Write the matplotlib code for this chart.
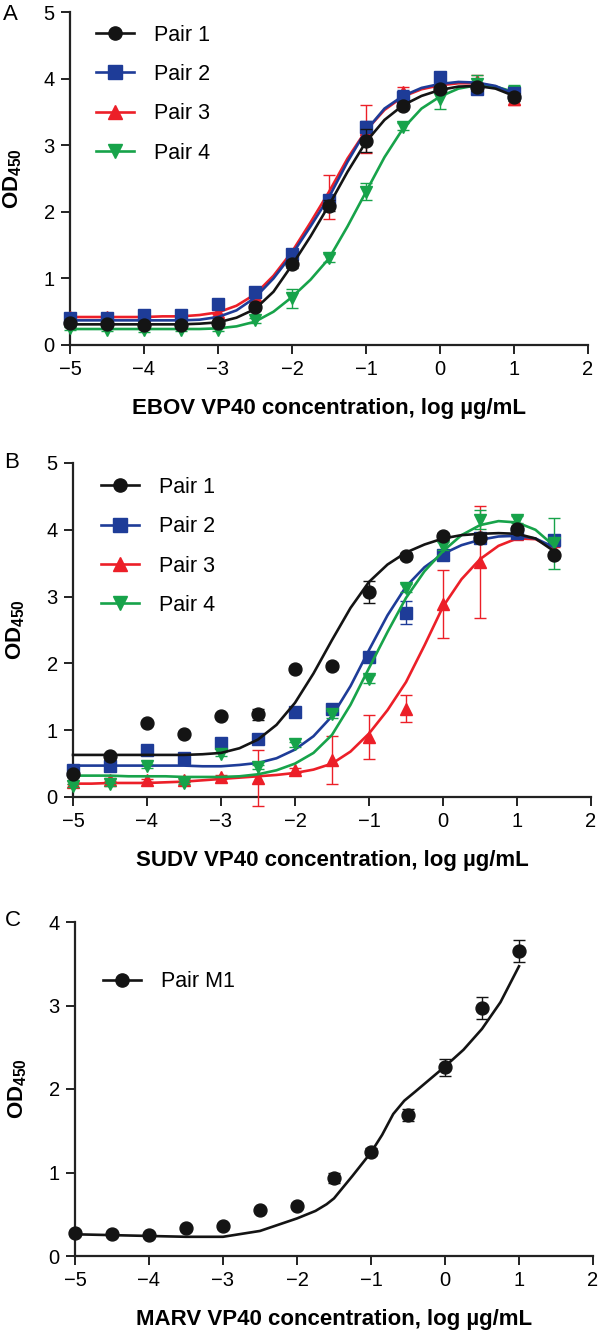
import matplotlib.pyplot as plt
from matplotlib.lines import Line2D

plt.rcParams['font.family'] = ['Liberation Sans', 'DejaVu Sans']
plt.rcParams['mathtext.fontset'] = 'custom'
plt.rcParams['mathtext.rm'] = 'Liberation Sans'
plt.rcParams['mathtext.bf'] = 'Liberation Sans:bold'

# ---- Panel A: EBOV VP40 ----
a_x = [-5, -4.5, -4, -3.5, -3, -2.5, -2, -1.5, -1, -0.5, 0, 0.5, 1]
a_p1 = [0.33, 0.32, 0.30, 0.30, 0.33, 0.57, 1.21, 2.09, 3.07, 3.59, 3.85, 3.87, 3.72]
a_p1_err = [0.03, 0.02, 0.02, 0.02, 0.03, 0.04, 0.06, 0.08, 0.17, 0.05, 0.04, 0.06, 0.06]
a_p2 = [0.41, 0.40, 0.45, 0.45, 0.61, 0.79, 1.36, 2.17, 3.28, 3.73, 4.03, 3.85, 3.78]
a_p2_err = [0.03, 0.03, 0.03, 0.03, 0.03, 0.05, 0.06, 0.08, 0.08, 0.10, 0.05, 0.06, 0.08]
a_p3 = [0.42, 0.42, 0.43, 0.43, 0.50, 0.74, 1.30, 2.22, 3.25, 3.80, 3.95, 3.97, 3.70]
a_p3_err = [0.03, 0.03, 0.03, 0.03, 0.04, 0.06, 0.08, 0.33, 0.36, 0.08, 0.05, 0.08, 0.10]
a_p4 = [0.25, 0.23, 0.22, 0.23, 0.23, 0.37, 0.70, 1.30, 2.30, 3.28, 3.70, 3.92, 3.80]
a_p4_err = [0.02, 0.02, 0.02, 0.02, 0.02, 0.04, 0.14, 0.06, 0.13, 0.05, 0.15, 0.14, 0.10]

# fitted curves, every 0.25 log units
a_cx = [-5, -4.75, -4.5, -4.25, -4, -3.75, -3.5, -3.25, -3, -2.75, -2.5, -2.25, -2,
        -1.75, -1.5, -1.25, -1, -0.75, -0.5, -0.25, 0, 0.25, 0.5, 0.75, 1]
a_c1 = [0.31, 0.31, 0.31, 0.31, 0.31, 0.31, 0.31, 0.32, 0.34, 0.41, 0.54, 0.80, 1.20,
        1.63, 2.10, 2.60, 3.05, 3.38, 3.60, 3.74, 3.83, 3.88, 3.89, 3.85, 3.74]
a_c2 = [0.37, 0.37, 0.37, 0.37, 0.37, 0.37, 0.37, 0.38, 0.42, 0.52, 0.71, 1.00, 1.36,
        1.78, 2.22, 2.75, 3.22, 3.55, 3.74, 3.86, 3.92, 3.95, 3.94, 3.89, 3.77]
a_c3 = [0.42, 0.42, 0.42, 0.42, 0.42, 0.43, 0.43, 0.45, 0.49, 0.59, 0.76, 1.04, 1.40,
        1.84, 2.30, 2.80, 3.22, 3.53, 3.73, 3.84, 3.90, 3.93, 3.93, 3.88, 3.75]
a_c4 = [0.24, 0.24, 0.24, 0.24, 0.24, 0.24, 0.24, 0.24, 0.25, 0.28, 0.35, 0.50, 0.72,
        0.98, 1.30, 1.78, 2.30, 2.82, 3.25, 3.55, 3.73, 3.85, 3.90, 3.88, 3.80]

# ---- Panel B: SUDV VP40 ----
b_x = [-5, -4.5, -4, -3.5, -3, -2.5, -2, -1.5, -1, -0.5, 0, 0.5, 1, 1.5]
b_p1 = [0.34, 0.61, 1.11, 0.95, 1.21, 1.24, 1.92, 1.96, 3.07, 3.61, 3.91, 3.88, 4.01, 3.62]
b_p1_err = [0.03, 0.03, 0.03, 0.03, 0.03, 0.08, 0.04, 0.04, 0.17, 0.04, 0.04, 0.05, 0.05, 0.04]
b_p2 = [0.41, 0.46, 0.70, 0.59, 0.81, 0.87, 1.27, 1.32, 2.10, 2.76, 3.63, 3.88, 3.95, 3.85]
b_p2_err = [0.03, 0.03, 0.03, 0.03, 0.03, 0.04, 0.04, 0.05, 0.06, 0.17, 0.05, 0.06, 0.05, 0.06]
b_p3 = [0.22, 0.26, 0.25, 0.25, 0.30, 0.29, 0.40, 0.56, 0.90, 1.32, 2.89, 3.52, 3.93, 3.70]
b_p3_err = [0.02, 0.02, 0.02, 0.02, 0.03, 0.42, 0.04, 0.36, 0.33, 0.20, 0.51, 0.84, 0.05, 0.05]
b_p4 = [0.17, 0.19, 0.46, 0.21, 0.64, 0.45, 0.79, 1.24, 1.76, 3.13, 3.76, 4.15, 4.15, 3.80]
b_p4_err = [0.02, 0.02, 0.03, 0.02, 0.03, 0.03, 0.04, 0.05, 0.06, 0.06, 0.06, 0.14, 0.05, 0.38]

b_cx = [-5, -4.75, -4.5, -4.25, -4, -3.75, -3.5, -3.25, -3, -2.75, -2.5, -2.25, -2,
        -1.75, -1.5, -1.25, -1, -0.75, -0.5, -0.25, 0, 0.25, 0.5, 0.75, 1, 1.25, 1.5]
b_c1 = [0.63, 0.63, 0.63, 0.63, 0.63, 0.63, 0.63, 0.64, 0.66, 0.73, 0.86, 1.08, 1.41,
        1.85, 2.35, 2.83, 3.22, 3.48, 3.66, 3.78, 3.87, 3.92, 3.94, 3.95, 3.94, 3.87, 3.68]
b_c2 = [0.47, 0.47, 0.47, 0.47, 0.47, 0.47, 0.47, 0.46, 0.46, 0.48, 0.51, 0.58, 0.71,
        0.91, 1.21, 1.66, 2.20, 2.72, 3.15, 3.44, 3.64, 3.77, 3.85, 3.90, 3.91, 3.87, 3.74]
b_c3 = [0.20, 0.20, 0.21, 0.21, 0.21, 0.22, 0.23, 0.25, 0.27, 0.29, 0.31, 0.33, 0.36,
        0.41, 0.50, 0.68, 0.95, 1.30, 1.72, 2.27, 2.85, 3.26, 3.56, 3.76, 3.87, 3.86, 3.72]
b_c4 = [0.32, 0.32, 0.32, 0.31, 0.31, 0.31, 0.30, 0.30, 0.30, 0.31, 0.34, 0.40, 0.50,
        0.66, 0.93, 1.38, 1.93, 2.47, 2.98, 3.38, 3.68, 3.92, 4.07, 4.13, 4.11, 4.00, 3.76]

# ---- Panel C: MARV VP40 ----
c_x = [-5, -4.5, -4, -3.5, -3, -2.5, -2, -1.5, -1, -0.5, 0, 0.5, 1]
c_m1 = [0.28, 0.26, 0.25, 0.33, 0.36, 0.55, 0.60, 0.93, 1.25, 1.69, 2.26, 2.97, 3.65]
c_m1_err = [0.02, 0.02, 0.02, 0.02, 0.02, 0.02, 0.03, 0.06, 0.04, 0.07, 0.10, 0.13, 0.13]
c_cx = [-5, -4.5, -4, -3.5, -3, -2.5, -2, -1.75, -1.6, -1.5, -1.25, -1, -0.85, -0.7,
        -0.55, -0.4, -0.2, 0, 0.25, 0.5, 0.75, 1]
c_c1 = [0.26, 0.25, 0.24, 0.23, 0.23, 0.30, 0.45, 0.54, 0.62, 0.69, 0.96, 1.24, 1.45, 1.70,
        1.86, 1.97, 2.12, 2.27, 2.47, 2.72, 3.04, 3.47]

pair_names = ['Pair 1', 'Pair 2', 'Pair 3', 'Pair 4']
colors = ['#141414', '#1e3c98', '#ec1f28', '#17a34a']
markers = ['o', 's', '^', 'v']


def style_axes(ax, ymax, yticks):
    ax.set_xlim(-5, 2)
    ax.set_ylim(0, ymax)
    ax.set_xticks([-5, -4, -3, -2, -1, 0, 1, 2])
    ax.set_yticks(yticks)
    for s in ['top', 'right']:
        ax.spines[s].set_visible(False)
    for s in ['left', 'bottom']:
        ax.spines[s].set_linewidth(1.6)
        ax.spines[s].set_color('#222222')
    ax.tick_params(width=1.4, length=6.5, labelsize=14.5, pad=4.5, color='#222222')
    ax.set_ylabel(r'$\mathbf{OD}_{\mathbf{450}}$', fontsize=16)
    ax.yaxis.set_label_coords(-0.088, 0.5)
    ax.xaxis.set_label_coords(0.5, -0.158)


def draw_series(ax, x, y, err, cx, cy, color, marker, z):
    ax.plot(cx, cy, color=color, lw=1.9, zorder=z, clip_on=False)
    ax.errorbar(x, y, yerr=err, fmt=marker, color=color, ms=9.3, mec=color,
                elinewidth=1.0, capsize=4.5, capthick=1.0, zorder=z + 0.5, clip_on=False)


def add_legend(ax, names, cols, marks, anchor):
    handles = [Line2D([], [], color=c, marker=m, ms=9.5, lw=1.9) for c, m in zip(cols, marks)]
    ax.legend(handles, names, loc='upper left', bbox_to_anchor=anchor, frameon=False,
              fontsize=15.5, handlelength=1.75, handletextpad=0.95, labelspacing=0.85,
              borderpad=0, borderaxespad=0)


fig = plt.figure(figsize=(6.0, 13.41), dpi=100)
H = 1341.0
W = 600.0

# panel A
axA = fig.add_axes([70 / W, 1 - 345 / H, 518 / W, 333 / H])
order_a = [(a_p3, a_p3_err, a_c3, 2), (a_p4, a_p4_err, a_c4, 3),
           (a_p2, a_p2_err, a_c2, 1), (a_p1, a_p1_err, a_c1, 0)]
for k, (y, e, cy, i) in enumerate(order_a):
    draw_series(axA, a_x, y, e, a_cx, cy, colors[i], markers[i], 3 + k)
style_axes(axA, 5, [0, 1, 2, 3, 4, 5])
axA.set_xlabel('EBOV VP40 concentration, log µg/mL', fontsize=16, fontweight='bold')
add_legend(axA, pair_names, colors, markers, (26 / 518, 0.962))

# panel B
axB = fig.add_axes([73 / W, 1 - 797 / H, 518 / W, 334 / H])
order_b = [(b_p3, b_p3_err, b_c3, 2), (b_p2, b_p2_err, b_c2, 1),
           (b_p4, b_p4_err, b_c4, 3), (b_p1, b_p1_err, b_c1, 0)]
for k, (y, e, cy, i) in enumerate(order_b):
    draw_series(axB, b_x, y, e, b_cx, cy, colors[i], markers[i], 3 + k)
style_axes(axB, 5, [0, 1, 2, 3, 4, 5])
axB.set_xlabel('SUDV VP40 concentration, log µg/mL', fontsize=16, fontweight='bold')
add_legend(axB, pair_names, colors, markers, (28 / 518, 0.958))

# panel C
axC = fig.add_axes([75 / W, 1 - 1256 / H, 518 / W, 334 / H])
draw_series(axC, c_x, c_m1, c_m1_err, c_cx, c_c1, colors[0], 'o', 3)
style_axes(axC, 4, [0, 1, 2, 3, 4])
axC.set_xlabel('MARV VP40 concentration, log µg/mL', fontsize=16, fontweight='bold')
add_legend(axC, ['Pair M1'], [colors[0]], ['o'], (28 / 518, 0.853))

fig.text(3 / W, 1 - 15 / H, 'A', fontsize=16, va='center', ha='left')
fig.text(4 / W, 1 - 463 / H, 'B', fontsize=16, va='center', ha='left')
fig.text(5 / W, 1 - 920 / H, 'C', fontsize=16, va='center', ha='left')

fig.savefig('out.png', dpi=100)
